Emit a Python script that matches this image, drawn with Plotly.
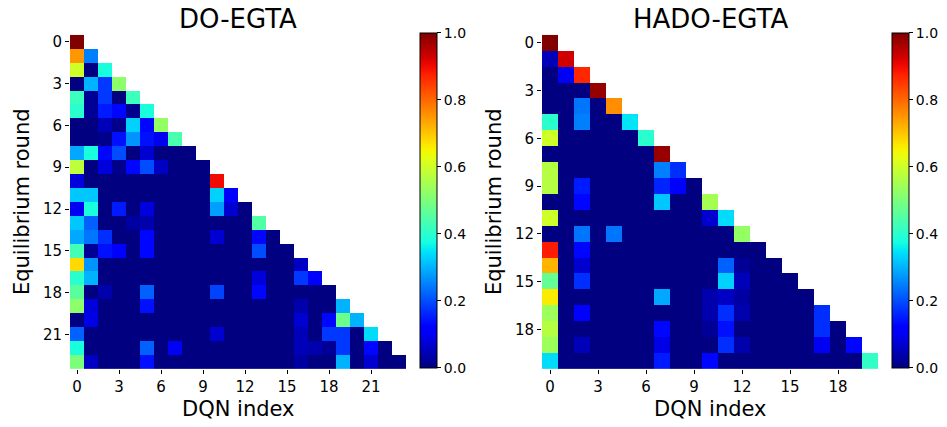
import numpy as np
import plotly.graph_objects as go

# ---------------- data ----------------
do_egta_rows = [
    [1.00],
    [0.75, 0.25],
    [0.60, 0.00, 0.38],
    [0.00, 0.30, 0.18, 0.52],
    [0.42, 0.02, 0.18, 0.00, 0.42],
    [0.40, 0.02, 0.15, 0.13, 0.01, 0.38],
    [0.00, 0.00, 0.05, 0.01, 0.33, 0.13, 0.53],
    [0.00, 0.00, 0.01, 0.14, 0.27, 0.14, 0.10, 0.44],
    [0.29, 0.38, 0.13, 0.20, 0.00, 0.07, 0.00, 0.00, 0.00],
    [0.58, 0.00, 0.08, 0.01, 0.13, 0.20, 0.06, 0.00, 0.00, 0.00],
    [0.08, 0.00, 0.00, 0.00, 0.00, 0.00, 0.00, 0.00, 0.00, 0.00, 0.90],
    [0.32, 0.32, 0.00, 0.00, 0.00, 0.00, 0.00, 0.00, 0.00, 0.00, 0.33, 0.12],
    [0.10, 0.38, 0.00, 0.15, 0.00, 0.08, 0.00, 0.00, 0.00, 0.00, 0.28, 0.07, 0.00],
    [0.32, 0.22, 0.00, 0.00, 0.03, 0.04, 0.00, 0.00, 0.00, 0.00, 0.00, 0.00, 0.00, 0.45],
    [0.29, 0.24, 0.17, 0.00, 0.00, 0.13, 0.00, 0.00, 0.00, 0.00, 0.07, 0.00, 0.00, 0.13, 0.00],
    [0.43, 0.02, 0.14, 0.12, 0.00, 0.13, 0.00, 0.00, 0.00, 0.00, 0.00, 0.00, 0.00, 0.20, 0.00, 0.00],
    [0.68, 0.27, 0.00, 0.00, 0.00, 0.00, 0.00, 0.00, 0.00, 0.00, 0.00, 0.00, 0.00, 0.00, 0.00, 0.00, 0.06],
    [0.40, 0.30, 0.00, 0.00, 0.00, 0.00, 0.00, 0.00, 0.00, 0.00, 0.00, 0.00, 0.00, 0.08, 0.00, 0.00, 0.18, 0.12],
    [0.46, 0.00, 0.04, 0.00, 0.00, 0.22, 0.00, 0.00, 0.00, 0.00, 0.19, 0.00, 0.00, 0.13, 0.00, 0.00, 0.00, 0.00, 0.00],
    [0.52, 0.08, 0.00, 0.00, 0.00, 0.14, 0.00, 0.00, 0.00, 0.00, 0.00, 0.00, 0.00, 0.00, 0.00, 0.00, 0.04, 0.00, 0.00, 0.30],
    [0.00, 0.09, 0.00, 0.00, 0.00, 0.00, 0.00, 0.00, 0.00, 0.00, 0.00, 0.00, 0.00, 0.00, 0.00, 0.00, 0.07, 0.00, 0.13, 0.48, 0.30],
    [0.22, 0.00, 0.00, 0.00, 0.00, 0.00, 0.00, 0.00, 0.00, 0.00, 0.07, 0.00, 0.00, 0.00, 0.00, 0.00, 0.05, 0.00, 0.18, 0.18, 0.00, 0.34],
    [0.38, 0.00, 0.00, 0.00, 0.00, 0.22, 0.00, 0.10, 0.00, 0.00, 0.00, 0.00, 0.00, 0.00, 0.00, 0.00, 0.05, 0.04, 0.02, 0.18, 0.00, 0.13, 0.00],
    [0.50, 0.06, 0.00, 0.00, 0.00, 0.14, 0.00, 0.00, 0.00, 0.00, 0.00, 0.00, 0.00, 0.00, 0.00, 0.00, 0.03, 0.00, 0.00, 0.30, 0.00, 0.07, 0.00, 0.00],
]

hado_egta_rows = [
    [1.00],
    [0.05, 0.93],
    [0.00, 0.10, 0.87],
    [0.00, 0.00, 0.00, 0.98],
    [0.00, 0.00, 0.24, 0.00, 0.76],
    [0.40, 0.00, 0.25, 0.00, 0.00, 0.35],
    [0.60, 0.00, 0.00, 0.00, 0.00, 0.00, 0.40],
    [0.00, 0.00, 0.00, 0.00, 0.00, 0.00, 0.00, 0.98],
    [0.57, 0.00, 0.00, 0.00, 0.00, 0.00, 0.00, 0.25, 0.17],
    [0.57, 0.00, 0.15, 0.00, 0.00, 0.00, 0.00, 0.16, 0.12, 0.00],
    [0.00, 0.00, 0.13, 0.00, 0.00, 0.00, 0.00, 0.32, 0.00, 0.00, 0.55],
    [0.60, 0.00, 0.00, 0.00, 0.00, 0.00, 0.00, 0.00, 0.00, 0.00, 0.07, 0.34],
    [0.00, 0.00, 0.24, 0.00, 0.24, 0.00, 0.00, 0.00, 0.00, 0.00, 0.00, 0.00, 0.53],
    [0.88, 0.00, 0.13, 0.00, 0.00, 0.00, 0.00, 0.00, 0.00, 0.00, 0.00, 0.00, 0.00, 0.00],
    [0.72, 0.00, 0.07, 0.00, 0.00, 0.00, 0.00, 0.00, 0.00, 0.00, 0.00, 0.22, 0.02, 0.00, 0.00],
    [0.47, 0.00, 0.17, 0.00, 0.00, 0.00, 0.00, 0.00, 0.00, 0.00, 0.00, 0.33, 0.05, 0.00, 0.00, 0.00],
    [0.66, 0.00, 0.00, 0.00, 0.00, 0.00, 0.00, 0.29, 0.00, 0.00, 0.04, 0.06, 0.03, 0.00, 0.00, 0.00, 0.00],
    [0.54, 0.00, 0.12, 0.00, 0.00, 0.00, 0.00, 0.00, 0.00, 0.00, 0.04, 0.17, 0.04, 0.00, 0.00, 0.00, 0.00, 0.17],
    [0.57, 0.00, 0.00, 0.00, 0.00, 0.00, 0.00, 0.13, 0.00, 0.00, 0.02, 0.14, 0.00, 0.00, 0.00, 0.00, 0.00, 0.17, 0.00],
    [0.54, 0.00, 0.05, 0.00, 0.00, 0.00, 0.00, 0.09, 0.00, 0.00, 0.00, 0.17, 0.04, 0.00, 0.00, 0.00, 0.00, 0.10, 0.00, 0.13],
    [0.34, 0.00, 0.00, 0.00, 0.00, 0.00, 0.00, 0.15, 0.00, 0.00, 0.13, 0.00, 0.00, 0.00, 0.00, 0.00, 0.00, 0.00, 0.00, 0.00, 0.41],
]

titles = ["DO-EGTA", "HADO-EGTA"]
x_label = "DQN index"
y_label = "Equilibrium round"
cbar_ticks = [0.0, 0.2, 0.4, 0.6, 0.8, 1.0]


def to_matrix(rows):
    n = len(rows)
    m = np.full((n, n), np.nan)
    for i, r in enumerate(rows):
        m[i, :len(r)] = r
    return m


# matplotlib "jet" colormap
def jet_scale(n=41):
    r_pts = [(0, 0), (0.35, 0), (0.66, 1), (0.89, 1), (1, 0.5)]
    g_pts = [(0, 0), (0.125, 0), (0.375, 1), (0.64, 1), (0.91, 0), (1, 0)]
    b_pts = [(0, 0.5), (0.11, 1), (0.34, 1), (0.65, 0), (1, 0)]
    def f(pts, t):
        xs, ys = zip(*pts)
        return float(np.interp(t, xs, ys))
    out = []
    for t in np.linspace(0, 1, n):
        out.append([float(t), "rgb(%d,%d,%d)" % (round(255 * f(r_pts, t)),
                                                  round(255 * f(g_pts, t)),
                                                  round(255 * f(b_pts, t)))])
    return out


W, H = 947, 427
FONT = "DejaVu Sans"
jet = jet_scale()

panels = [
    dict(rows=do_egta_rows, x0=70, x1=406, cb=420, ylab_x=22),
    dict(rows=hado_egta_rows, x0=542, x1=878, cb=892, ylab_x=494),
]
y_top, y_bot = 33, 369

fig = go.Figure()
annotations = []
for k, p in enumerate(panels):
    z = to_matrix(p["rows"])
    n = z.shape[0]
    idx = list(range(n))
    sfx = "" if k == 0 else str(k + 1)
    fig.add_trace(go.Heatmap(
        z=z, x=idx, y=idx, xaxis="x" + sfx, yaxis="y" + sfx,
        colorscale=jet, zmin=0, zmax=1, hoverongaps=False,
        colorbar=dict(
            x=p["cb"] / W, xanchor="left", xpad=0, ypad=0,
            y=1 - 31 / H, yanchor="top", len=(368 - 31) / H, lenmode="fraction",
            thickness=17, outlinewidth=1, outlinecolor="black",
            tickvals=cbar_ticks, ticktext=["%.1f" % v for v in cbar_ticks],
            ticks="outside", ticklen=4, tickcolor="black",
            tickfont=dict(family=FONT, size=14, color="black"),
        ),
    ))
    ticks = list(range(0, n, 3))
    ax_common = dict(
        tickvals=ticks, ticktext=[str(t) for t in ticks],
        ticks="outside", ticklen=4, tickcolor="black", tickwidth=1,
        tickfont=dict(family=FONT, size=15, color="black"),
        showgrid=False, zeroline=False, showline=False,
    )
    fig.layout["xaxis" + sfx] = dict(
        domain=[p["x0"] / W, p["x1"] / W], anchor="y" + sfx,
        range=[-0.5, n - 0.5], **ax_common)
    fig.layout["yaxis" + sfx] = dict(
        domain=[1 - y_bot / H, 1 - y_top / H], anchor="x" + sfx,
        range=[n - 0.5, -0.5], **ax_common)
    annotations.append(dict(
        text=titles[k], xref="paper", yref="paper",
        x=(p["x0"] + p["x1"]) / 2 / W, y=1 - 17 / H,
        xanchor="center", yanchor="middle", showarrow=False,
        font=dict(family=FONT, size=26, color="black")))
    annotations.append(dict(
        text=x_label, xref="paper", yref="paper",
        x=(p["x0"] + p["x1"]) / 2 / W, y=1 - 409 / H,
        xanchor="center", yanchor="middle", showarrow=False,
        font=dict(family=FONT, size=21, color="black")))
    annotations.append(dict(
        text=y_label, xref="paper", yref="paper",
        x=p["ylab_x"] / W, y=1 - 201 / H, textangle=-90,
        xanchor="center", yanchor="middle", showarrow=False,
        font=dict(family=FONT, size=21, color="black")))

fig.update_layout(
    width=W, height=H, margin=dict(l=0, r=0, t=0, b=0),
    paper_bgcolor="white", plot_bgcolor="white",
    annotations=annotations, showlegend=False,
)

fig.write_html("out.html")
